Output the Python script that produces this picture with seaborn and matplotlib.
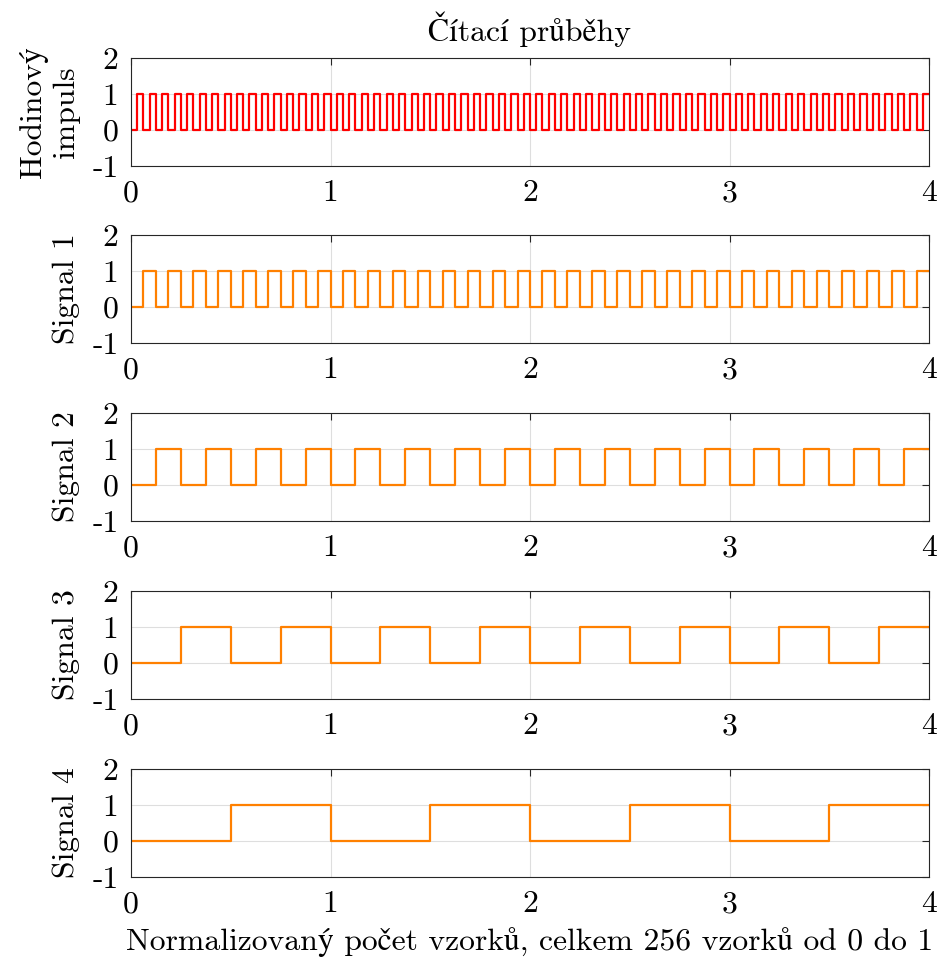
import numpy as np
import pandas as pd
import matplotlib
matplotlib.use("Agg")
import matplotlib.pyplot as plt
import seaborn as sns

# ---- data -------------------------------------------------------------
title = "Čítací průběhy"
xlabel = "Normalizovaný počet vzorků, celkem 256 vzorků od 0 do 1"
ylabels = ["Hodinový\nimpuls", "Signal 1", "Signal 2", "Signal 3", "Signal 4"]
x_max = 4
x_ticks = [0, 1, 2, 3, 4]
y_ticks = [-1, 0, 1, 2]
y_tick_labels = ["-1", "0", "1", "2"]

clock = [
    0, 1, 0, 1, 0, 1, 0, 1, 0, 1, 0, 1, 0, 1, 0, 1,
    0, 1, 0, 1, 0, 1, 0, 1, 0, 1, 0, 1, 0, 1, 0, 1,
    0, 1, 0, 1, 0, 1, 0, 1, 0, 1, 0, 1, 0, 1, 0, 1,
    0, 1, 0, 1, 0, 1, 0, 1, 0, 1, 0, 1, 0, 1, 0, 1,
    0, 1, 0, 1, 0, 1, 0, 1, 0, 1, 0, 1, 0, 1, 0, 1,
    0, 1, 0, 1, 0, 1, 0, 1, 0, 1, 0, 1, 0, 1, 0, 1,
    0, 1, 0, 1, 0, 1, 0, 1, 0, 1, 0, 1, 0, 1, 0, 1,
    0, 1, 0, 1, 0, 1, 0, 1, 0, 1, 0, 1, 0, 1, 0, 1,
]
signal_1 = [
    0, 1, 0, 1, 0, 1, 0, 1, 0, 1, 0, 1, 0, 1, 0, 1,
    0, 1, 0, 1, 0, 1, 0, 1, 0, 1, 0, 1, 0, 1, 0, 1,
    0, 1, 0, 1, 0, 1, 0, 1, 0, 1, 0, 1, 0, 1, 0, 1,
    0, 1, 0, 1, 0, 1, 0, 1, 0, 1, 0, 1, 0, 1, 0, 1,
]
signal_2 = [
    0, 1, 0, 1, 0, 1, 0, 1, 0, 1, 0, 1, 0, 1, 0, 1,
    0, 1, 0, 1, 0, 1, 0, 1, 0, 1, 0, 1, 0, 1, 0, 1,
]
signal_3 = [0, 1, 0, 1, 0, 1, 0, 1, 0, 1, 0, 1, 0, 1, 0, 1]
signal_4 = [0, 1, 0, 1, 0, 1, 0, 1]

series = [clock, signal_1, signal_2, signal_3, signal_4]
colors = ["#FF0000", "#FF8000", "#FF8000", "#FF8000", "#FF8000"]

# ---- style ------------------------------------------------------------
sns.set_theme(style="white")
plt.rcParams["font.family"] = ["cmr10", "STIXGeneral", "DejaVu Serif"]
plt.rcParams["axes.unicode_minus"] = False
plt.rcParams["mathtext.fontset"] = "cm"
FS = 22.8
TXT = "#000000"
AX = "#262626"

W, H = 941, 967
fig = plt.figure(figsize=(W / 100, H / 100), dpi=100)

left_px, right_px = 131, 929
bottoms_px = [166, 343, 521, 699, 877]
ax_h_px = 108

axes = []
for i, vals in enumerate(series):
    b = bottoms_px[i]
    ax = fig.add_axes([left_px / W, 1 - b / H, (right_px - left_px) / W, ax_h_px / H])
    n = len(vals)
    xs = np.linspace(0, x_max, n + 1)
    ys = list(vals) + [vals[-1]]
    df = pd.DataFrame({"x": xs, "y": ys})
    sns.lineplot(data=df, x="x", y="y", ax=ax, drawstyle="steps-post",
                 color=colors[i], linewidth=1.6, estimator=None, sort=False)
    ax.set_xlim(0, x_max)
    ax.set_ylim(-1, 2)
    ax.set_xticks(x_ticks)
    ax.set_xticklabels([str(t) for t in x_ticks])
    ax.set_yticks(y_ticks)
    ax.set_yticklabels(y_tick_labels)
    ax.grid(True, color="#dedede", linewidth=0.8)
    ax.set_axisbelow(True)
    for s in ax.spines.values():
        s.set_visible(True)
        s.set_color(AX)
        s.set_linewidth(0.8)
    ax.tick_params(direction="in", length=5, width=0.8, color=AX,
                   top=True, right=True, labelsize=FS, labelcolor=TXT,
                   pad=9)
    ax.tick_params(axis="x", pad=10)
    ax.set_xlabel("")
    ax.set_ylabel(ylabels[i], fontsize=FS, color=TXT, labelpad=9,
                  linespacing=1.2)
    axes.append(ax)

axes[0].set_title(title, fontsize=FS, color=TXT, pad=12)
axes[-1].set_xlabel(xlabel, fontsize=FS, color=TXT, labelpad=6)

fig.savefig("out.png", dpi=100)
